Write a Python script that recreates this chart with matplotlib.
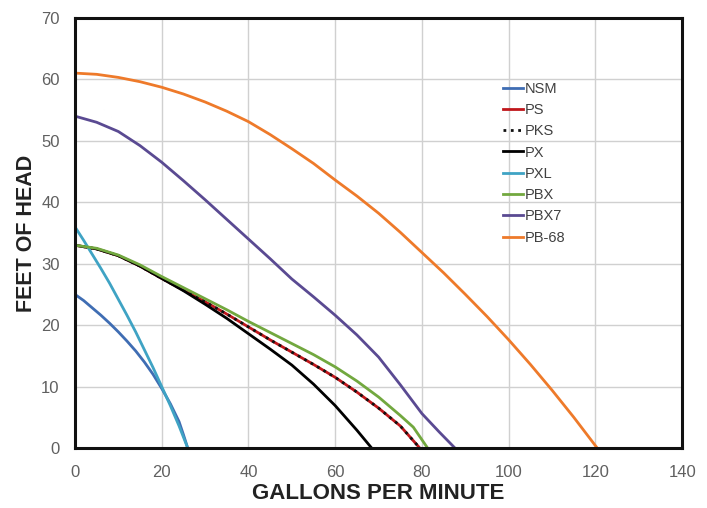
import matplotlib.pyplot as plt

plt.rcParams['font.family'] = ['Liberation Sans', 'DejaVu Sans']

# pump curves: gallons per minute vs feet of head
nsm_gpm = [0, 2, 4, 6, 8, 10, 12, 14, 16, 18, 20, 22, 24, 25, 26]
nsm_head = [25, 24.0, 22.8, 21.6, 20.3, 18.9, 17.4, 15.8, 14.0, 12.0, 9.7, 7.2, 4.3, 2.2, 0]

pxl_gpm = [0, 2, 4, 6, 8, 10, 12, 14, 16, 18, 20, 22, 24, 26]
pxl_head = [36, 33.8, 31.5, 29.2, 26.8, 24.2, 21.6, 18.9, 16.0, 13.1, 10.0, 6.9, 3.6, 0]

px_gpm = [0, 5, 10, 15, 20, 25, 30, 35, 40, 45, 50, 55, 60, 65, 68.4]
px_head = [33, 32.4, 31.3, 29.6, 27.6, 25.6, 23.4, 21.1, 18.6, 16.1, 13.5, 10.4, 6.9, 2.9, 0]

ps_gpm = [0, 5, 10, 15, 20, 25, 30, 35, 40, 45, 50, 55, 60, 65, 70, 75, 79.5]
ps_head = [33, 32.4, 31.3, 29.6, 27.6, 25.7, 23.8, 21.8, 19.7, 17.6, 15.6, 13.6, 11.5, 9.1, 6.5, 3.6, 0]

pks_gpm = [0, 5, 10, 15, 20, 25, 30, 35, 40, 45, 50, 55, 60, 65, 70, 75, 79.5]
pks_head = [33, 32.4, 31.3, 29.6, 27.6, 25.7, 23.8, 21.8, 19.7, 17.6, 15.6, 13.6, 11.5, 9.1, 6.5, 3.6, 0]

pbx_gpm = [0, 5, 10, 15, 20, 25, 30, 35, 40, 45, 50, 55, 60, 65, 70, 75, 78, 81.3]
pbx_head = [33, 32.5, 31.4, 29.8, 27.9, 26.1, 24.3, 22.5, 20.6, 18.8, 17.0, 15.2, 13.2, 10.9, 8.3, 5.3, 3.4, 0]

pbx7_gpm = [0, 5, 10, 15, 20, 25, 30, 35, 40, 45, 50, 55, 60, 65, 70, 75, 80, 84, 87.6]
pbx7_head = [54, 53.0, 51.5, 49.2, 46.5, 43.5, 40.4, 37.2, 34.0, 30.8, 27.5, 24.6, 21.6, 18.4, 14.8, 10.3, 5.6, 2.6, 0]

pb68_gpm = [0, 5, 10, 15, 20, 25, 30, 35, 40, 45, 50, 55, 60, 65, 70, 75, 80, 85, 90,
            95, 100, 105, 110, 115, 120.4]
pb68_head = [61, 60.8, 60.3, 59.6, 58.7, 57.6, 56.3, 54.8, 53.1, 51.0, 48.7, 46.3, 43.6,
             41.0, 38.2, 35.1, 31.8, 28.5, 25.0, 21.4, 17.6, 13.6, 9.4, 5.0, 0]

series = [
    ('NSM', nsm_gpm, nsm_head, '#3F6DB3', '-'),
    ('PS', ps_gpm, ps_head, '#C0161B', '-'),
    ('PKS', pks_gpm, pks_head, '#111111', ':'),
    ('PX', px_gpm, px_head, '#000000', '-'),
    ('PXL', pxl_gpm, pxl_head, '#3FA3C4', '-'),
    ('PBX', pbx_gpm, pbx_head, '#72A83F', '-'),
    ('PBX7', pbx7_gpm, pbx7_head, '#5A4A92', '-'),
    ('PB-68', pb68_gpm, pb68_head, '#EE7A2A', '-'),
]

fig = plt.figure(figsize=(7.07, 5.08), dpi=100)
ax = fig.add_axes([0.106, 0.118, 0.859, 0.847])

for name, x, y, color, ls in series:
    ax.plot(x, y, color=color, linestyle=ls, linewidth=2.0, label=name,
            solid_joinstyle='round')

ax.set_xlim(0, 140)
ax.set_ylim(0, 70)
ax.set_xticks(range(0, 141, 20))
ax.set_yticks(range(0, 71, 10))
ax.grid(True, color='#D0D0D0', linewidth=1)
ax.set_axisbelow(True)
ax.tick_params(length=0, labelsize=12, labelcolor='#606060')
ax.tick_params(axis='x', pad=12)
ax.tick_params(axis='y', pad=11)
for s in ax.spines.values():
    s.set_linewidth(2.2)
    s.set_color('#111111')

ax.set_xlabel('GALLONS PER MINUTE', fontsize=16, fontweight='bold', labelpad=2,
              color='#222222')
ax.set_ylabel('FEET OF HEAD', fontsize=15.5, fontweight='bold', labelpad=3,
              color='#222222')

leg = ax.legend(loc='upper left', bbox_to_anchor=(0.695, 0.865), frameon=False,
                fontsize=10.5, handlelength=1.4, handletextpad=0.1,
                labelspacing=0.5, borderaxespad=0)
for t in leg.get_texts():
    t.set_color('#404040')

fig.savefig('out.png', dpi=100)
